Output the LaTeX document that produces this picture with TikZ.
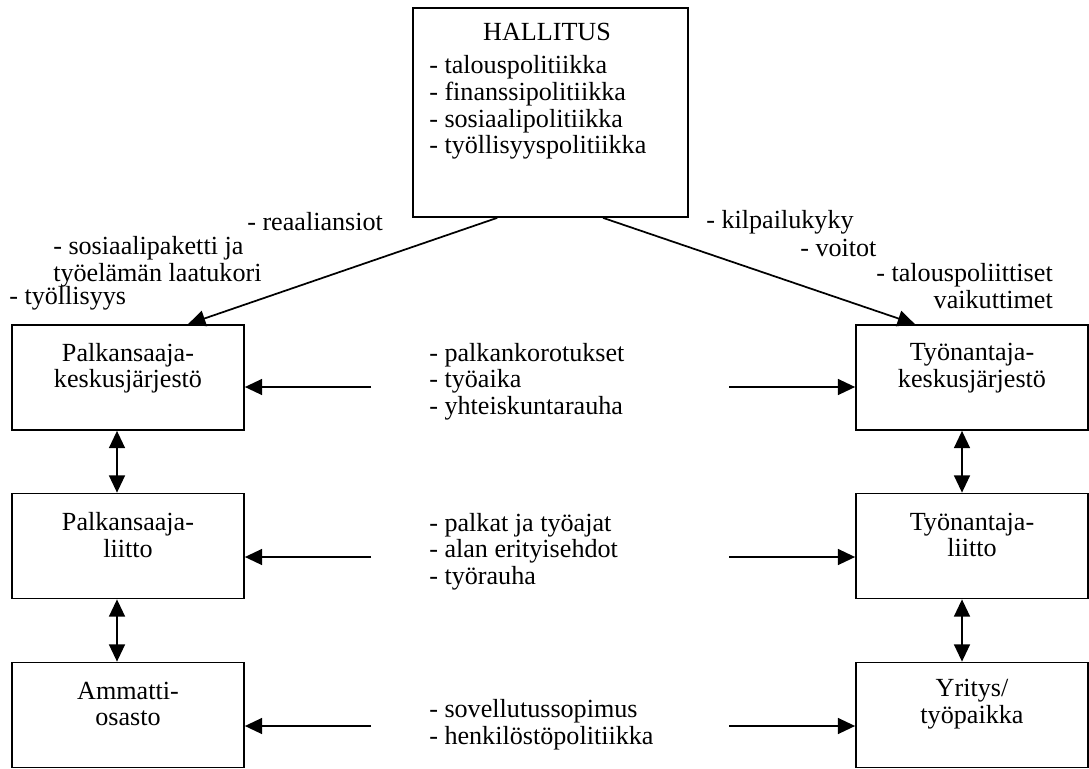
\documentclass[tikz,border=0pt]{standalone}
\usepackage{fontspec}
\setmainfont{Liberation Serif}
\usetikzlibrary{arrows.meta,calc}

\begin{document}
\begin{tikzpicture}[x=0.75pt,y=-0.75pt,
  every node/.style={font=\fontsize{19.6}{19.9}\selectfont, inner sep=0pt},
  box/.style={draw, line width=1.3pt, minimum width=174pt, minimum height=78.75pt},
  lbl/.style={align=left, anchor=west},
  conn/.style={line width=1.3pt, -{Triangle[length=13pt,width=12pt]}},
  both/.style={line width=1.3pt, {Triangle[length=13pt,width=12pt]}-{Triangle[length=13pt,width=12pt]}}]
  \useasboundingbox (0,0) rectangle (1089,768);
  % government
  \node[box, minimum width=206.25pt, minimum height=156.75pt] (hall) at (550.5,112.5) {};
  \node (hallt) at (547,32) {HALLITUS};
  \node[lbl] (hlist) at (429,107.5) {- talouspolitiikka\\- finanssipolitiikka\\- sosiaalipolitiikka\\- työllisyyspolitiikka};
  % employees
  \node[box] (pk) at (128,377.5) {};
  \node[align=center] (pkt) at (128,368) {Palkansaaja-\\keskusjärjestö};
  \node[box] (pl) at (128,546) {};
  \node[align=center] (plt) at (128,535) {Palkansaaja-\\liitto};
  \node[box] (ao) at (128,715) {};
  \node[align=center] (aot) at (128,704) {Ammatti-\\osasto};
  % employers
  \node[box] (tk) at (972,377.5) {};
  \node[align=center] (tkt) at (972,368) {Työnantaja-\\keskusjärjestö};
  \node[box] (tl) at (972,546) {};
  \node[align=center] (tlt) at (972,535) {Työnantaja-\\liitto};
  \node[box] (yr) at (972,715) {};
  \node[align=center] (yrt) at (972,704) {Yritys/\\työpaikka};
  % negotiation topics
  \node[lbl] (m1) at (429,381.5) {- palkankorotukset\\- työaika\\- yhteiskuntarauha};
  \node[lbl] (m2) at (429,551.5) {- palkat ja työajat\\- alan erityisehdot\\- työrauha};
  \node[lbl] (m3) at (429,724.5) {- sovellutussopimus\\- henkilöstöpolitiikka};
  \coordinate (l1) at (371,387);
  \coordinate (l2) at (371,557);
  \coordinate (l3) at (371,726);
  \coordinate (r1) at (729,387);
  \coordinate (r2) at (729,557);
  \coordinate (r3) at (729,726);
  \draw[conn] (l1) -- (l1 -| pk.east);
  \draw[conn] (l2) -- (l2 -| pl.east);
  \draw[conn] (l3) -- (l3 -| ao.east);
  \draw[conn] (r1) -- (r1 -| tk.west);
  \draw[conn] (r2) -- (r2 -| tl.west);
  \draw[conn] (r3) -- (r3 -| yr.west);
  \draw[both] ([xshift=-8.25pt]pk.south) -- ([xshift=-8.25pt]pl.north);
  \draw[both] ([xshift=-8.25pt]pl.south) -- ([xshift=-8.25pt]ao.north);
  \draw[both] ([xshift=-7.5pt]tk.south) -- ([xshift=-7.5pt]tl.north);
  \draw[both] ([xshift=-7.5pt]tl.south) -- ([xshift=-7.5pt]yr.north);
  % government effects
  \draw[conn] ([xshift=-40pt]hall.south) -- ([xshift=45pt]pk.north);
  \draw[conn] ([xshift=39.4pt]hall.south) -- ([xshift=-42.75pt]tk.north);
  \node[lbl] (d1) at (247,222) {- reaaliansiot};
  \node[lbl] (d2) at (53,262) {- sosiaalipaketti ja\\työelämän laatukori};
  \node[lbl] (d3) at (9,298) {- työllisyys};
  \node[lbl] (d4) at (706,222) {- kilpailukyky};
  \node[lbl] (d5) at (800,248) {- voitot};
  \node[align=right, anchor=east] (d6) at (1053,286) {- talouspoliittiset\\vaikuttimet};
\end{tikzpicture}
\end{document}
